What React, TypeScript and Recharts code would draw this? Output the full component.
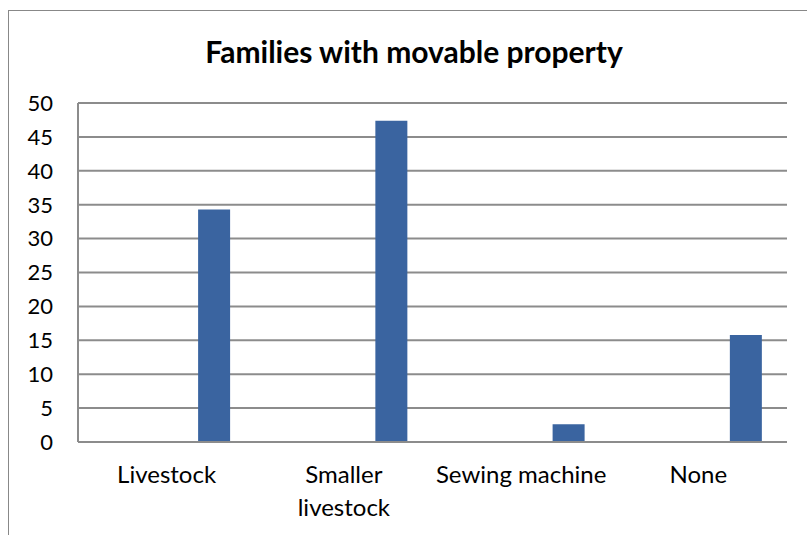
import React from 'react';
import { BarChart, Bar, XAxis, YAxis, CartesianGrid } from 'recharts';

// categories along the x axis and the share of families (%) owning each
const categories = ['Livestock', 'Smaller livestock', 'Sewing machine', 'None'];
const shares = [34.3, 47.4, 2.6, 15.8];
// how each category label breaks across lines
const tickLines = [['Livestock'], ['Smaller', 'livestock'], ['Sewing machine'], ['None']];
const yTicks = [0, 5, 10, 15, 20, 25, 30, 35, 40, 45, 50];
// the workbook had three more series with no values; they still take a slot in each group
const emptySeries = ['s1', 's2', 's3'];

const data = categories.map((name, i) => ({ name, share: shares[i] }));

const FONT = 'Lato, "Open Sans", sans-serif';
const GRID = '#8c8c8c';

function CategoryTick(props: any) {
  const { x, y, index } = props;
  const lines = tickLines[index] || [props.payload.value];
  return (
    <text x={x} y={y} textAnchor="middle" fontFamily={FONT} fontSize={24} fill="#000">
      {lines.map((line: string, i: number) => (
        <tspan key={i} x={x} dy={i === 0 ? '0.66em' : 33}>
          {line}
        </tspan>
      ))}
    </text>
  );
}

export default function App() {
  return (
    <div
      style={{
        position: 'fixed',
        left: 8,
        top: 10,
        width: 820,
        height: 540,
        borderTop: '1px solid #888',
        borderLeft: '1px solid #888',
        background: '#fff',
      }}
    >
      <svg width={796} height={80} style={{ position: 'absolute', left: 0, top: 0 }}>
        <text x={405} y={52} textAnchor="middle" fontFamily={FONT} fontWeight="bold" fontSize={30} fill="#000">
          Families with movable property
        </text>
      </svg>
      <BarChart
        width={796}
        height={524}
        data={data}
        margin={{ top: 92, right: 18, bottom: 0, left: 0 }}
        barCategoryGap="13.6%"
        barGap={0}
      >
        <CartesianGrid vertical={false} stroke={GRID} strokeWidth={2} />
        <XAxis
          dataKey="name"
          height={93}
          axisLine={{ stroke: GRID, strokeWidth: 2 }}
          tickLine={false}
          tickSize={0}
          tickMargin={25}
          interval={0}
          tick={<CategoryTick />}
        />
        <YAxis
          width={69}
          domain={[0, 50]}
          ticks={yTicks}
          interval={0}
          axisLine={{ stroke: GRID, strokeWidth: 2 }}
          tickLine={false}
          tickSize={0}
          tickMargin={25}
          tick={{ fontFamily: FONT, fontSize: 22, fill: '#000' }}
        />
        {emptySeries.map((key) => (
          <Bar key={key} dataKey={key} fill="#3a64a0" isAnimationActive={false} />
        ))}
        <Bar dataKey="share" fill="#3a64a0" isAnimationActive={false} />
      </BarChart>
    </div>
  );
}
